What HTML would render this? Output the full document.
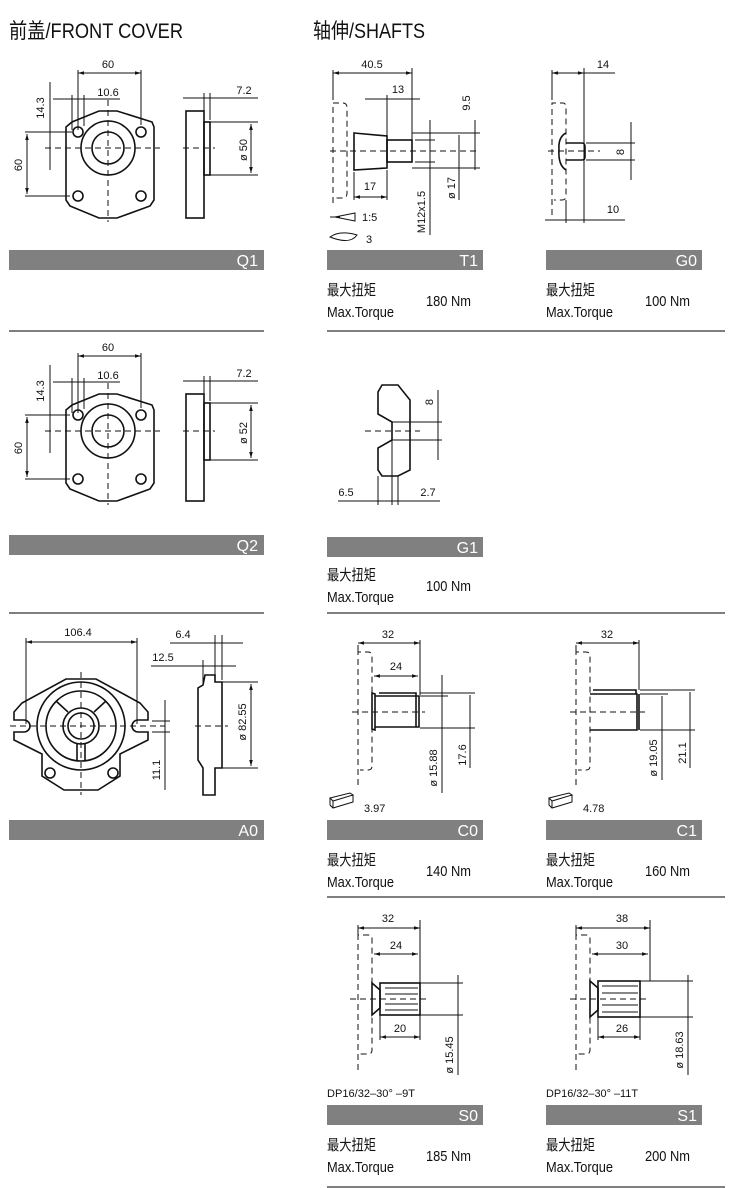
<!DOCTYPE html>
<html><head><meta charset="utf-8"><style>
html,body{margin:0;padding:0;background:#fff;}
svg{display:block}
text{font-family:"Liberation Sans Narrow","Liberation Sans","Noto Sans CJK SC",sans-serif;fill:#111}
.h{font-size:21px}
.d{font-size:11px}
.t{font-size:15px}
.b{font-size:16px;fill:#fff}
.l{stroke:#111;stroke-width:1;fill:none}
.k{stroke:#111;stroke-width:1.6;fill:none}
.ds{stroke:#111;stroke-width:1;fill:none;stroke-dasharray:6,4}
</style></head><body>
<svg width="730" height="1188" viewBox="0 0 730 1188" xmlns="http://www.w3.org/2000/svg">
<defs>
<marker id="a" viewBox="0 0 10 10" refX="10" refY="5" markerWidth="8" markerHeight="6" orient="auto-start-reverse"><path d="M0,2 L10,5 L0,8z" fill="#111"/></marker>
</defs>
<text class="h" x="9" y="38" textLength="174" lengthAdjust="spacingAndGlyphs">前盖/FRONT COVER</text>
<text class="h" x="313" y="38" textLength="112" lengthAdjust="spacingAndGlyphs">轴伸/SHAFTS</text>

<!-- Bars -->
<g fill="#808080">
<rect x="9" y="250" width="255" height="20"/>
<rect x="327" y="250" width="156" height="20"/>
<rect x="546" y="250" width="156" height="20"/>
<rect x="9" y="535" width="255" height="20"/>
<rect x="327" y="537" width="156" height="20"/>
<rect x="9" y="820" width="255" height="20"/>
<rect x="327" y="820" width="156" height="20"/>
<rect x="546" y="820" width="156" height="20"/>
<rect x="327" y="1105" width="156" height="20"/>
<rect x="546" y="1105" width="156" height="20"/>
</g>
<text class="b" x="258" y="266" text-anchor="end">Q1</text>
<text class="b" x="478" y="266" text-anchor="end">T1</text>
<text class="b" x="697" y="266" text-anchor="end">G0</text>
<text class="b" x="258" y="551" text-anchor="end">Q2</text>
<text class="b" x="478" y="553" text-anchor="end">G1</text>
<text class="b" x="258" y="836" text-anchor="end">A0</text>
<text class="b" x="478" y="836" text-anchor="end">C0</text>
<text class="b" x="697" y="836" text-anchor="end">C1</text>
<text class="b" x="478" y="1121" text-anchor="end">S0</text>
<text class="b" x="697" y="1121" text-anchor="end">S1</text>

<!-- separators -->
<g stroke="#333" stroke-width="1.3">
<line x1="9" y1="331" x2="264" y2="331"/><line x1="327" y1="331" x2="725" y2="331"/>
<line x1="9" y1="613" x2="264" y2="613"/><line x1="327" y1="613" x2="725" y2="613"/>
<line x1="327" y1="897" x2="725" y2="897"/>
<line x1="327" y1="1187" x2="725" y2="1187"/>
</g>

<!-- torque -->
<g class="t">
<text x="327" y="295" textLength="49" lengthAdjust="spacingAndGlyphs">最大扭矩</text><text x="327" y="317" textLength="67" lengthAdjust="spacingAndGlyphs">Max.Torque</text><text x="426" y="306" textLength="45" lengthAdjust="spacingAndGlyphs">180 Nm</text>
<text x="546" y="295" textLength="49" lengthAdjust="spacingAndGlyphs">最大扭矩</text><text x="546" y="317" textLength="67" lengthAdjust="spacingAndGlyphs">Max.Torque</text><text x="645" y="306" textLength="45" lengthAdjust="spacingAndGlyphs">100 Nm</text>
<text x="327" y="580" textLength="49" lengthAdjust="spacingAndGlyphs">最大扭矩</text><text x="327" y="602" textLength="67" lengthAdjust="spacingAndGlyphs">Max.Torque</text><text x="426" y="591" textLength="45" lengthAdjust="spacingAndGlyphs">100 Nm</text>
<text x="327" y="865" textLength="49" lengthAdjust="spacingAndGlyphs">最大扭矩</text><text x="327" y="887" textLength="67" lengthAdjust="spacingAndGlyphs">Max.Torque</text><text x="426" y="876" textLength="45" lengthAdjust="spacingAndGlyphs">140 Nm</text>
<text x="546" y="865" textLength="49" lengthAdjust="spacingAndGlyphs">最大扭矩</text><text x="546" y="887" textLength="67" lengthAdjust="spacingAndGlyphs">Max.Torque</text><text x="645" y="876" textLength="45" lengthAdjust="spacingAndGlyphs">160 Nm</text>
<text x="327" y="1150" textLength="49" lengthAdjust="spacingAndGlyphs">最大扭矩</text><text x="327" y="1172" textLength="67" lengthAdjust="spacingAndGlyphs">Max.Torque</text><text x="426" y="1161" textLength="45" lengthAdjust="spacingAndGlyphs">185 Nm</text>
<text x="546" y="1150" textLength="49" lengthAdjust="spacingAndGlyphs">最大扭矩</text><text x="546" y="1172" textLength="67" lengthAdjust="spacingAndGlyphs">Max.Torque</text><text x="645" y="1161" textLength="45" lengthAdjust="spacingAndGlyphs">200 Nm</text>
</g>

<!-- Q1 -->
<g>
<path class="k" d="M99,111 L117,111 L152,122 L154,127 L154,200 L150,206 L117,218 L99,218 L70,206 L66,200 L66,127 L72,122 Z"/>
<circle class="k" cx="78" cy="132" r="5"/><circle class="k" cx="141" cy="132" r="5"/>
<circle class="k" cx="78" cy="196" r="5"/><circle class="k" cx="141" cy="196" r="5"/>
<circle class="k" cx="108" cy="148" r="27"/><circle class="k" cx="108" cy="148" r="16"/>
<line class="ds" x1="45" y1="148" x2="160" y2="148"/><line class="ds" x1="108" y1="100" x2="108" y2="222"/>
<rect class="k" x="186" y="111" width="18" height="107"/>
<rect class="k" x="204" y="122" width="6" height="53"/>
<line class="ds" x1="183" y1="148" x2="215" y2="148"/>
<line class="l" x1="78" y1="70" x2="78" y2="130"/><line class="l" x1="141" y1="70" x2="141" y2="125"/>
<line class="l" x1="78" y1="73" x2="141" y2="73" marker-start="url(#a)" marker-end="url(#a)"/>
<text class="d" x="108" y="68" text-anchor="middle">60</text>
<line class="l" x1="72" y1="95" x2="72" y2="130"/><line class="l" x1="84" y1="95" x2="84" y2="126"/>
<line class="l" x1="53" y1="99" x2="120" y2="99"/>
<text class="d" x="108" y="96" text-anchor="middle">10.6</text>
<line class="l" x1="50" y1="82" x2="50" y2="170"/>
<line class="l" x1="45" y1="132" x2="72" y2="132"/>
<text class="d" transform="translate(44,108) rotate(-90)" text-anchor="middle">14.3</text>
<line class="l" x1="25" y1="132" x2="70" y2="132"/><line class="l" x1="25" y1="196" x2="70" y2="196"/>
<line class="l" x1="27" y1="134" x2="27" y2="194" marker-start="url(#a)" marker-end="url(#a)"/>
<text class="d" transform="translate(22,165) rotate(-90)" text-anchor="middle">60</text>
<line class="l" x1="183" y1="98" x2="258" y2="98"/><line class="l" x1="204" y1="93" x2="204" y2="115"/><line class="l" x1="210" y1="93" x2="210" y2="120"/>
<text class="d" x="244" y="94" text-anchor="middle">7.2</text>
<line class="l" x1="210" y1="122" x2="258" y2="122"/><line class="l" x1="210" y1="175" x2="258" y2="175"/>
<line class="l" x1="251" y1="124" x2="251" y2="173" marker-start="url(#a)" marker-end="url(#a)"/>
<text class="d" transform="translate(247,150) rotate(-90)" text-anchor="middle">ø 50</text>
</g>
<g transform="translate(0,283)">
<path class="k" d="M99,111 L117,111 L152,122 L154,127 L154,200 L150,206 L117,218 L99,218 L70,206 L66,200 L66,127 L72,122 Z"/>
<circle class="k" cx="78" cy="132" r="5"/><circle class="k" cx="141" cy="132" r="5"/>
<circle class="k" cx="78" cy="196" r="5"/><circle class="k" cx="141" cy="196" r="5"/>
<circle class="k" cx="108" cy="148" r="27"/><circle class="k" cx="108" cy="148" r="16"/>
<line class="ds" x1="45" y1="148" x2="160" y2="148"/><line class="ds" x1="108" y1="100" x2="108" y2="222"/>
<rect class="k" x="186" y="111" width="18" height="107"/>
<rect class="k" x="204" y="120" width="6" height="57"/>
<line class="ds" x1="183" y1="148" x2="215" y2="148"/>
<line class="l" x1="78" y1="70" x2="78" y2="130"/><line class="l" x1="141" y1="70" x2="141" y2="125"/>
<line class="l" x1="78" y1="73" x2="141" y2="73" marker-start="url(#a)" marker-end="url(#a)"/>
<text class="d" x="108" y="68" text-anchor="middle">60</text>
<line class="l" x1="72" y1="95" x2="72" y2="130"/><line class="l" x1="84" y1="95" x2="84" y2="126"/>
<line class="l" x1="53" y1="99" x2="120" y2="99"/>
<text class="d" x="108" y="96" text-anchor="middle">10.6</text>
<line class="l" x1="50" y1="82" x2="50" y2="170"/>
<text class="d" transform="translate(44,108) rotate(-90)" text-anchor="middle">14.3</text>
<line class="l" x1="25" y1="132" x2="70" y2="132"/><line class="l" x1="25" y1="196" x2="70" y2="196"/>
<line class="l" x1="27" y1="134" x2="27" y2="194" marker-start="url(#a)" marker-end="url(#a)"/>
<text class="d" transform="translate(22,165) rotate(-90)" text-anchor="middle">60</text>
<line class="l" x1="183" y1="98" x2="258" y2="98"/><line class="l" x1="204" y1="93" x2="204" y2="115"/><line class="l" x1="210" y1="93" x2="210" y2="118"/>
<text class="d" x="244" y="94" text-anchor="middle">7.2</text>
<line class="l" x1="210" y1="120" x2="258" y2="120"/><line class="l" x1="210" y1="177" x2="258" y2="177"/>
<line class="l" x1="251" y1="122" x2="251" y2="175" marker-start="url(#a)" marker-end="url(#a)"/>
<text class="d" transform="translate(247,150) rotate(-90)" text-anchor="middle">ø 52</text>
</g>

<!-- A0 -->
<g>
<path class="k" d="M66,679 L96,679 L140,703 L148,712 L148,720 L138,720 A6,6 0 0 0 138,732 L148,732 L148,740 L128,750 L120,754 L120,776 L98,790 L64,790 L42,776 L42,754 L34,750 L14,740 L14,732 L24,732 A6,6 0 0 0 24,720 L14,720 L14,712 L22,703 Z"/>
<circle class="k" cx="81" cy="726" r="44"/><circle class="k" cx="81" cy="726" r="35"/>
<circle class="k" cx="81" cy="726" r="18"/><circle class="k" cx="81" cy="726" r="13"/>
<line class="k" x1="56" y1="701" x2="68" y2="712"/><line class="k" x1="106" y1="701" x2="94" y2="712"/>
<line class="k" x1="77" y1="744" x2="77" y2="760"/><line class="k" x1="85" y1="744" x2="85" y2="760"/>
<circle class="k" cx="50" cy="773" r="5"/><circle class="k" cx="113" cy="773" r="5"/>
<line class="ds" x1="10" y1="726" x2="165" y2="726"/><line class="ds" x1="81" y1="672" x2="81" y2="795"/>
<line class="l" x1="26" y1="638" x2="26" y2="724"/><line class="l" x1="137" y1="638" x2="137" y2="724"/>
<line class="l" x1="26" y1="642" x2="137" y2="642" marker-start="url(#a)" marker-end="url(#a)"/>
<text class="d" x="78" y="636" text-anchor="middle">106.4</text>
<line class="l" x1="152" y1="721" x2="170" y2="721"/><line class="l" x1="152" y1="732" x2="170" y2="732"/>
<line class="l" x1="165" y1="700" x2="165" y2="790"/>
<text class="d" transform="translate(160,770) rotate(-90)" text-anchor="middle">11.1</text>
<path class="k" d="M205,675 L215,675 L215,682 L222,682 L222,768 L215,768 L215,795 L203,795 L203,768 L198,760 L198,688 L203,685 Z"/>
<line class="ds" x1="195" y1="726" x2="228" y2="726"/>
<line class="l" x1="170" y1="643" x2="243" y2="643"/><line class="l" x1="215" y1="635" x2="215" y2="675"/><line class="l" x1="222" y1="635" x2="222" y2="680"/>
<text class="d" x="183" y="638" text-anchor="middle">6.4</text>
<line class="l" x1="151" y1="666" x2="236" y2="666"/><line class="l" x1="203" y1="660" x2="203" y2="685"/>
<text class="d" x="163" y="661" text-anchor="middle">12.5</text>
<line class="l" x1="222" y1="682" x2="258" y2="682"/><line class="l" x1="222" y1="768" x2="258" y2="768"/>
<line class="l" x1="251" y1="684" x2="251" y2="766" marker-start="url(#a)" marker-end="url(#a)"/>
<text class="d" transform="translate(246,722) rotate(-90)" text-anchor="middle">ø 82.55</text>
</g>

<!-- T1 -->
<g>
<path class="ds" d="M333,203 L333,103 L343,103 Q347,103 347,108 L347,193 Q347,198 343,198 L335,198"/>
<path class="k" d="M354,133 L387,136 L387,168 L354,170 Z"/>
<rect class="k" x="387" y="140" width="25" height="22"/>
<line class="ds" x1="330" y1="151" x2="480" y2="151"/>
<line class="l" x1="333" y1="70" x2="333" y2="100"/><line class="l" x1="412" y1="68" x2="412" y2="140"/>
<line class="l" x1="333" y1="73" x2="412" y2="73" marker-start="url(#a)" marker-end="url(#a)"/>
<text class="d" x="372" y="68" text-anchor="middle">40.5</text>
<line class="l" x1="387" y1="95" x2="387" y2="140"/>
<line class="l" x1="365" y1="99" x2="420" y2="99"/>
<text class="d" x="398" y="93" text-anchor="middle">13</text>
<line class="l" x1="354" y1="172" x2="354" y2="200"/><line class="l" x1="387" y1="170" x2="387" y2="200"/>
<line class="l" x1="354" y1="197" x2="387" y2="197" marker-start="url(#a)" marker-end="url(#a)"/>
<text class="d" x="370" y="190" text-anchor="middle">17</text>
<line class="l" x1="412" y1="133" x2="480" y2="133"/><line class="l" x1="412" y1="168" x2="480" y2="168"/>
<line class="l" x1="415" y1="140" x2="435" y2="140"/><line class="l" x1="415" y1="162" x2="435" y2="162"/>
<line class="l" x1="430" y1="120" x2="430" y2="235"/>
<text class="d" transform="translate(425,212) rotate(-90)" text-anchor="middle">M12x1.5</text>
<line class="l" x1="459" y1="135" x2="459" y2="200"/>
<text class="d" transform="translate(455,188) rotate(-90)" text-anchor="middle">ø 17</text>
<line class="l" x1="475" y1="120" x2="475" y2="170"/>
<text class="d" transform="translate(470,103) rotate(-90)" text-anchor="middle">9.5</text>
<path class="l" d="M335,217 L355,213 L355,221 Z"/><line class="l" x1="330" y1="217" x2="340" y2="217"/>
<text class="d" x="362" y="221">1:5</text>
<path class="l" d="M330,237 Q340,230 357,235 Q350,245 330,237 Z"/>
<text class="d" x="366" y="243">3</text>
</g>

<!-- G0 -->
<g>
<path class="ds" d="M552,215 L552,103 L563,103 Q566,103 566,108 L566,196 Q566,200 562,200 L554,200"/>
<path class="k" d="M566,133 Q558,137 559,150 Q558,165 566,170 M566,143 L582,143 Q585,143 585,147 L585,157 Q585,160 582,160 L566,160"/>
<line class="ds" x1="548" y1="151" x2="600" y2="151"/>
<line class="l" x1="552" y1="70" x2="552" y2="100"/><line class="l" x1="584" y1="68" x2="584" y2="223"/>
<line class="l" x1="552" y1="73" x2="615" y2="73" marker-start="url(#a)"/>
<line class="l" x1="552" y1="73" x2="584" y2="73" marker-end="url(#a)"/>
<text class="d" x="603" y="68" text-anchor="middle">14</text>
<line class="l" x1="566" y1="200" x2="566" y2="223"/>
<line class="l" x1="545" y1="220" x2="625" y2="220"/>
<text class="d" x="613" y="213" text-anchor="middle">10</text>
<line class="l" x1="586" y1="143" x2="635" y2="143"/><line class="l" x1="586" y1="160" x2="635" y2="160"/>
<line class="l" x1="631" y1="122" x2="631" y2="180"/>
<text class="d" transform="translate(624,152) rotate(-90)" text-anchor="middle">8</text>
</g>

<!-- G1 -->
<g>
<path class="k" d="M382,385 L398,385 L410,400 L410,470 L398,476 L382,476 L378,470 L378,448 L392,440 L392,422 L378,414 L378,392 Z"/>
<line class="l" x1="392" y1="422" x2="410" y2="422"/><line class="l" x1="392" y1="440" x2="410" y2="440"/>
<line class="ds" x1="365" y1="431" x2="420" y2="431"/>
<line class="l" x1="410" y1="422" x2="442" y2="422"/><line class="l" x1="410" y1="440" x2="442" y2="440"/>
<line class="l" x1="438" y1="390" x2="438" y2="460"/>
<text class="d" transform="translate(433,402) rotate(-90)" text-anchor="middle">8</text>
<line class="l" x1="378" y1="476" x2="378" y2="505"/><line class="l" x1="392" y1="440" x2="392" y2="505"/><line class="l" x1="398" y1="476" x2="398" y2="505"/>
<line class="l" x1="338" y1="501" x2="440" y2="501"/>
<text class="d" x="346" y="496" text-anchor="middle">6.5</text>
<text class="d" x="428" y="496" text-anchor="middle">2.7</text>
</g>

<!-- C0 -->
<g>
<path class="ds" d="M358,785 L358,652 L368,652 Q372,652 372,656 L372,766 Q372,770 368,770 L360,770"/>
<path class="k" d="M372,693 L375,694 L375,730 L372,729 Z"/>
<path class="k" d="M375,696 L419,696 L419,727 L375,727 M379,693 L416,693 L416,696"/>
<line class="k" x1="416" y1="696" x2="416" y2="727"/>
<line class="ds" x1="352" y1="712" x2="425" y2="712"/>
<line class="l" x1="358" y1="645" x2="358" y2="652"/><line class="l" x1="420" y1="640" x2="420" y2="695"/>
<line class="l" x1="358" y1="643" x2="420" y2="643" marker-start="url(#a)" marker-end="url(#a)"/>
<text class="d" x="388" y="638" text-anchor="middle">32</text>
<line class="l" x1="374" y1="676" x2="418" y2="676" marker-start="url(#a)" marker-end="url(#a)"/>
<text class="d" x="396" y="670" text-anchor="middle">24</text>
<line class="l" x1="420" y1="696" x2="448" y2="696"/><line class="l" x1="420" y1="728" x2="475" y2="728"/>
<line class="l" x1="420" y1="693" x2="475" y2="693"/>
<line class="l" x1="442" y1="675" x2="442" y2="793"/>
<text class="d" transform="translate(437,768) rotate(-90)" text-anchor="middle">ø 15.88</text>
<line class="l" x1="470" y1="695" x2="470" y2="768"/>
<text class="d" transform="translate(466,755) rotate(-90)" text-anchor="middle">17.6</text>
<path class="l" d="M330,798 L350,793 L353,795 L333,801 Z M330,798 L330,805 L333,808 L353,802 L353,795 M333,801 L333,808"/>
<text class="d" x="364" y="812">3.97</text>
</g>

<!-- C1 -->
<g>
<path class="ds" d="M576,785 L576,652 L586,652 Q590,652 590,656 L590,766 Q590,770 586,770 L578,770"/>
<path class="k" d="M590,694 L637,694 L637,730 L590,730 M593,690 L636,690 L636,694"/>
<line class="k" x1="639" y1="694" x2="639" y2="730"/>
<line class="ds" x1="570" y1="712" x2="645" y2="712"/>
<line class="l" x1="576" y1="645" x2="576" y2="652"/><line class="l" x1="639" y1="640" x2="639" y2="690"/>
<line class="l" x1="576" y1="643" x2="639" y2="643" marker-start="url(#a)" marker-end="url(#a)"/>
<text class="d" x="607" y="638" text-anchor="middle">32</text>
<line class="l" x1="640" y1="694" x2="668" y2="694"/><line class="l" x1="640" y1="730" x2="695" y2="730"/>
<line class="l" x1="640" y1="690" x2="695" y2="690"/>
<line class="l" x1="662" y1="696" x2="662" y2="780"/>
<text class="d" transform="translate(657,758) rotate(-90)" text-anchor="middle">ø 19.05</text>
<line class="l" x1="690" y1="692" x2="690" y2="768"/>
<text class="d" transform="translate(686,753) rotate(-90)" text-anchor="middle">21.1</text>
<path class="l" d="M549,798 L569,793 L572,795 L552,801 Z M549,798 L549,805 L552,808 L572,802 L572,795 M552,801 L552,808"/>
<text class="d" x="583" y="812">4.78</text>
</g>

<!-- S0 -->
<g>
<path class="ds" d="M358,1070 L358,935 L368,935 Q372,935 372,939 L372,1050 Q372,1054 368,1054 L360,1054"/>
<path class="k" d="M372,983 L380,990 L380,1008 L372,1015 Z"/>
<rect class="k" x="380" y="983" width="40" height="32"/>
<line class="l" x1="385" y1="988" x2="418" y2="988"/><line class="l" x1="385" y1="994" x2="418" y2="994"/><line class="l" x1="385" y1="1004" x2="418" y2="1004"/><line class="l" x1="385" y1="1010" x2="418" y2="1010"/>
<line class="ds" x1="350" y1="999" x2="430" y2="999"/>
<line class="l" x1="358" y1="925" x2="358" y2="935"/><line class="l" x1="420" y1="920" x2="420" y2="983"/>
<line class="l" x1="358" y1="928" x2="420" y2="928" marker-start="url(#a)" marker-end="url(#a)"/>
<text class="d" x="388" y="922" text-anchor="middle">32</text>
<line class="l" x1="374" y1="954" x2="418" y2="954" marker-start="url(#a)" marker-end="url(#a)"/>
<text class="d" x="396" y="949" text-anchor="middle">24</text>
<line class="l" x1="380" y1="1015" x2="380" y2="1040"/><line class="l" x1="420" y1="1015" x2="420" y2="1040"/>
<line class="l" x1="380" y1="1037" x2="420" y2="1037" marker-start="url(#a)" marker-end="url(#a)"/>
<text class="d" x="400" y="1032" text-anchor="middle">20</text>
<line class="l" x1="420" y1="983" x2="463" y2="983"/><line class="l" x1="420" y1="1015" x2="463" y2="1015"/>
<line class="l" x1="458" y1="975" x2="458" y2="1075"/>
<text class="d" transform="translate(453,1055) rotate(-90)" text-anchor="middle">ø 15.45</text>
<text class="d" x="327" y="1097" textLength="88" lengthAdjust="spacingAndGlyphs">DP16/32–30°  –9T</text>
</g>

<!-- S1 -->
<g>
<path class="ds" d="M576,1070 L576,935 L586,935 Q590,935 590,939 L590,1050 Q590,1054 586,1054 L578,1054"/>
<path class="k" d="M590,981 L598,988 L598,1010 L590,1017 Z"/>
<rect class="k" x="598" y="981" width="42" height="36"/>
<line class="l" x1="602" y1="986" x2="638" y2="986"/><line class="l" x1="602" y1="993" x2="638" y2="993"/><line class="l" x1="602" y1="1005" x2="638" y2="1005"/><line class="l" x1="602" y1="1012" x2="638" y2="1012"/>
<line class="ds" x1="570" y1="999" x2="650" y2="999"/>
<line class="l" x1="576" y1="925" x2="576" y2="935"/><line class="l" x1="650" y1="920" x2="650" y2="981"/>
<line class="l" x1="576" y1="928" x2="650" y2="928" marker-start="url(#a)" marker-end="url(#a)"/>
<text class="d" x="622" y="922" text-anchor="middle">38</text>
<line class="l" x1="592" y1="954" x2="648" y2="954" marker-start="url(#a)" marker-end="url(#a)"/>
<text class="d" x="622" y="949" text-anchor="middle">30</text>
<line class="l" x1="598" y1="1017" x2="598" y2="1040"/><line class="l" x1="640" y1="1017" x2="640" y2="1040"/>
<line class="l" x1="598" y1="1037" x2="640" y2="1037" marker-start="url(#a)" marker-end="url(#a)"/>
<text class="d" x="622" y="1032" text-anchor="middle">26</text>
<line class="l" x1="640" y1="981" x2="693" y2="981"/><line class="l" x1="640" y1="1017" x2="693" y2="1017"/>
<line class="l" x1="688" y1="975" x2="688" y2="1075"/>
<text class="d" transform="translate(683,1050) rotate(-90)" text-anchor="middle">ø 18.63</text>
<text class="d" x="546" y="1097" textLength="92" lengthAdjust="spacingAndGlyphs">DP16/32–30°  –11T</text>
</g>
</svg>
</body></html>
